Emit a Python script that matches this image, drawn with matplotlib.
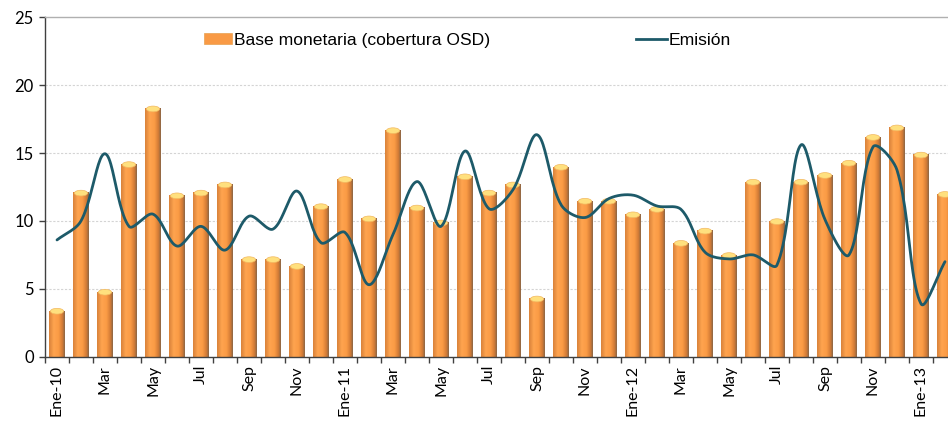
import numpy as np
import matplotlib
matplotlib.use("Agg")
import matplotlib.pyplot as plt
from matplotlib.patches import Rectangle, Ellipse, Patch
from matplotlib.lines import Line2D
from matplotlib.colors import LinearSegmentedColormap

# ---------------- data ----------------
months = ["Ene-10", "Feb", "Mar", "Abr", "May", "Jun", "Jul", "Ago", "Sep", "Oct", "Nov", "Dic",
          "Ene-11", "Feb", "Mar", "Abr", "May", "Jun", "Jul", "Ago", "Sep", "Oct", "Nov", "Dic",
          "Ene-12", "Feb", "Mar", "Abr", "May", "Jun", "Jul", "Ago", "Sep", "Oct", "Nov", "Dic",
          "Ene-13", "Feb"]
base_monetaria = [3.4, 12.1, 4.8, 14.2, 18.3, 11.9, 12.1, 12.7, 7.2, 7.2, 6.7, 11.1,
                  13.1, 10.2, 16.7, 11.0, 9.9, 13.3, 12.1, 12.7, 4.3, 14.0, 11.5, 11.5,
                  10.5, 10.9, 8.4, 9.3, 7.5, 12.9, 10.0, 12.9, 13.4, 14.3, 16.2, 16.9,
                  14.9, 12.0]
emision = [8.6, 10.0, 14.95, 9.6, 10.5, 8.15, 9.6, 7.85, 10.35, 9.4, 12.2, 8.4,
           9.15, 5.3, 9.0, 12.9, 9.6, 15.15, 10.9, 12.3, 16.35, 11.2, 10.25, 11.65,
           11.9, 11.1, 10.85, 7.7, 7.2, 7.5, 6.75, 15.6, 10.1, 7.5, 15.45, 13.75,
           3.9, 7.0]
label_bars = "Base monetaria (cobertura OSD)"
label_line = "Emisión"
yticks = [0, 5, 10, 15, 20, 25]

# ---------------- figure ----------------
W, H = 948, 421
fig = plt.figure(figsize=(W / 100, H / 100), dpi=100)
ax = fig.add_axes([45 / W, 64.3 / H, 912 / W, 339.4 / H])
n = len(months)
x = np.arange(n)

# grid
for yv in yticks[1:-1]:
    ax.axhline(yv, color="#d4d4d4", lw=0.8, ls=(0, (2, 1.5)), zorder=0)

# bars with gradient
cmap = LinearSegmentedColormap.from_list(
    "bar", [(0.0, "#d9823a"), (0.3, "#ffa44f"), (0.6, "#fb9b45"),
            (0.85, "#d27b36"), (1.0, "#8a6646")])
grad = np.linspace(0, 1, 64).reshape(1, -1)
bw = 0.65
for xi, v in zip(x, base_monetaria):
    x0, x1 = xi - bw / 2, xi + bw / 2
    rect = Rectangle((x0, 0), bw, v, facecolor="none", edgecolor="none")
    ax.add_patch(rect)
    im = ax.imshow(grad, cmap=cmap, extent=(x0, x1, 0, v), aspect="auto",
                   interpolation="bilinear", zorder=2)
    im.set_clip_path(rect)
    cap = Ellipse((xi, v - 0.05), bw * 0.85, 0.42, facecolor="#ffe07e",
                  edgecolor="#f2b860", lw=0.5, zorder=3)
    ax.add_patch(cap)
ax.set_xlim(-0.5, n - 0.5)
ax.set_ylim(0, 25)

# Excel-like smoothed line (chord-weighted Bezier through the monthly points)
def excel_smooth(xs, ys, yscale, steps=24):
    P = np.column_stack([np.asarray(xs, float), np.asarray(ys, float) * yscale])
    m = len(P)
    d = np.linalg.norm(np.diff(P, axis=0), axis=1)
    h_before = np.zeros_like(P)
    h_after = np.zeros_like(P)
    for i in range(m):
        if 0 < i < m - 1:
            T = P[i + 1] - P[i - 1]
            s = d[i - 1] + d[i]
            h_before[i] = T * d[i - 1] / s / 3
            h_after[i] = T * d[i] / s / 3
        elif i == 0:
            h_after[i] = (P[1] - P[0]) / 3
        else:
            h_before[i] = (P[-1] - P[-2]) / 3
    out = []
    t = np.linspace(0, 1, steps)[:, None]
    for i in range(m - 1):
        b0, b3 = P[i], P[i + 1]
        b1, b2 = b0 + h_after[i], b3 - h_before[i + 1]
        seg = ((1 - t) ** 3) * b0 + 3 * ((1 - t) ** 2) * t * b1 + 3 * (1 - t) * t ** 2 * b2 + t ** 3 * b3
        out.append(seg if i == 0 else seg[1:])
    out = np.vstack(out)
    return out[:, 0], out[:, 1] / yscale

# one x unit ~ 24 px, one y unit ~ 13.58 px
sx, sy = excel_smooth(x, emision, 13.58 / 24.0)
ax.plot(sx, sy, color="#1d5a69", lw=2.0, zorder=5, solid_capstyle="round")

# axes styling
ax.spines["right"].set_visible(False)
ax.spines["top"].set_color("#b0b0b0")
ax.spines["top"].set_linewidth(1.0)
ax.spines["left"].set_color("#404040")
ax.spines["bottom"].set_color("#404040")
ax.spines["left"].set_linewidth(1.0)
ax.spines["bottom"].set_linewidth(1.0)

ax.set_yticks(yticks)
ax.set_yticklabels([str(v) for v in yticks], fontsize=12, family="Lato")
ax.tick_params(axis="y", direction="out", length=4, width=1, color="#404040", pad=4)

ax.set_xticks(x[::2])
ax.set_xticklabels(months[::2], rotation=90, fontsize=11.5, family="Lato")
ax.set_xticks(np.arange(-0.5, n, 1), minor=True)
ax.tick_params(axis="x", which="major", length=0, pad=6)
ax.tick_params(axis="x", which="minor", direction="out", length=4, width=1, color="#404040")

# legends
h1 = Patch(facecolor="#f99a45", edgecolor="#e8a050", lw=0.5)
h2 = Line2D([], [], color="#1d5a69", lw=2.0)
leg1 = ax.legend([h1], [label_bars], loc="center left", frameon=False,
                 bbox_to_anchor=(204 / W, 1 - 40 / H), bbox_transform=fig.transFigure,
                 prop={"family": "Liberation Sans", "size": 12.6},
                 handlelength=1.6, handleheight=0.55, handletextpad=0.1, borderpad=0,
                 borderaxespad=0)
ax.add_artist(leg1)
ax.legend([h2], [label_line], loc="center left", frameon=False,
          bbox_to_anchor=(636 / W, 1 - 40 / H), bbox_transform=fig.transFigure,
          prop={"family": "Liberation Sans", "size": 12.6},
          handlelength=1.75, handletextpad=0.1, borderpad=0, borderaxespad=0)

fig.savefig("out.png", dpi=100)
